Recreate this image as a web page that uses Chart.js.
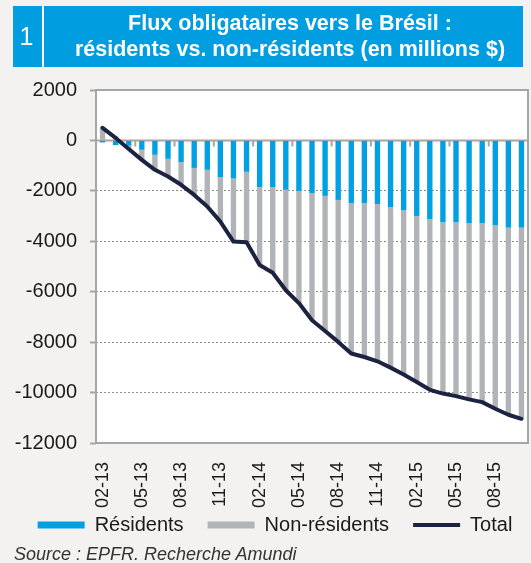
<!DOCTYPE html>
<html>
<head>
<meta charset="utf-8">
<script src="https://cdn.jsdelivr.net/npm/chart.js@4.4.0/dist/chart.umd.min.js"></script>
<style>
  html, body { margin: 0; padding: 0; }
  body {
    width: 531px; height: 563px; position: relative; overflow: hidden;
    background: #f3f2f0;
    font-family: "Liberation Sans", Arial, sans-serif;
  }
  #banner { position: absolute; left: 13px; top: 6px; width: 510px; height: 61px; background: #009ee0; }
  #num { position: absolute; left: 0; top: 0; width: 27px; height: 61px; color: #fff; font-size: 25px; line-height: 61px; text-align: center; }
  #sep { position: absolute; left: 29px; top: 0; width: 2px; height: 61px; background: #fff; }
  #title { position: absolute; left: 37px; top: 4px; width: 480px; color: #fff; font-weight: bold; font-size: 21.5px; line-height: 26px; text-align: center; white-space: nowrap; }
  #source { position: absolute; left: 14px; top: 544px; font-size: 18px; line-height: 20px; font-style: italic; color: #333; }
  canvas { position: absolute; left: 0; top: 0; }
</style>
</head>
<body>
<canvas id="fluxChart" width="531" height="563"></canvas>
<div id="banner">
  <div id="num">1</div>
  <div id="sep"></div>
  <div id="title">Flux obligataires vers le Brésil :<br>résidents vs. non-résidents (en millions $)</div>
</div>
<div id="source">Source : EPFR. Recherche Amundi</div>

<script>
// monthly categories, 02-13 .. 10-15
const months = [
  '02-13', '03-13', '04-13', '05-13', '06-13', '07-13', '08-13', '09-13', '10-13', '11-13', '12-13',
  '01-14', '02-14', '03-14', '04-14', '05-14', '06-14', '07-14', '08-14', '09-14', '10-14', '11-14', '12-14',
  '01-15', '02-15', '03-15', '04-15', '05-15', '06-15', '07-15', '08-15', '09-15', '10-15'
];

// cumulative flows, millions $
const residents = [
  -80, -185, -210, -370, -570, -730, -860, -1090, -1165, -1455, -1510,
  -1245, -1855, -1855, -1960, -2000, -2090, -2200, -2360, -2480, -2480, -2520, -2650,
  -2770, -2995, -3115, -3245, -3245, -3285, -3285, -3365, -3460, -3460
];
const nonResidents = [
  530, 165, -130, -400, -595, -700, -900, -1070, -1455, -1765, -2500,
  -2795, -3085, -3395, -3980, -4450, -5040, -5360, -5630, -5970, -6110, -6240, -6360,
  -6510, -6585, -6775, -6795, -6895, -6985, -7095, -7275, -7420, -7580
];
const total = [
  500, 100, -340, -770, -1165, -1430, -1760, -2160, -2620, -3220, -4010,
  -4040, -4940, -5250, -5940, -6450, -7130, -7560, -7990, -8450, -8590, -8760, -9010,
  -9280, -9580, -9890, -10040, -10140, -10270, -10380, -10640, -10880, -11040
];

const yMin = -12000;
const yMax = 2000;
const yStep = 2000;
const labelEvery = 3;

Chart.defaults.font.family = '"Liberation Sans", Arial, sans-serif';
Chart.defaults.color = '#1a1a1a';

// white plot area, grey frame, zero line with its little ticks
const plotFrame = {
  id: 'plotFrame',
  beforeDraw(chart) {
    const { ctx, chartArea: a } = chart;
    ctx.save();
    ctx.fillStyle = '#ffffff';
    ctx.fillRect(a.left, a.top, a.right - a.left, a.bottom - a.top);
    ctx.restore();
  },
  beforeDatasetsDraw(chart) {
    const { ctx, chartArea: a, scales } = chart;
    const x = scales.x, y = scales.y;
    const y0 = y.getPixelForValue(0);
    ctx.save();
    ctx.strokeStyle = '#a6a6a6';
    ctx.lineWidth = 2;
    ctx.strokeRect(a.left, a.top, a.right - a.left, a.bottom - a.top);
    ctx.beginPath();
    ctx.moveTo(a.left, y0);
    ctx.lineTo(a.right, y0);
    for (let i = labelEvery - 1; i < months.length - 1; i += labelEvery) {
      const xp = (x.getPixelForValue(i) + x.getPixelForValue(i + 1)) / 2;
      ctx.moveTo(xp, y0);
      ctx.lineTo(xp, y0 + 6);
    }
    ctx.stroke();
    ctx.restore();
  }
};

// legend padding also sets its vertical gap, so move the box into place
const legendNudge = {
  id: 'legendNudge',
  afterLayout(chart) {
    const lg = chart.legend;
    lg.left += 11;
    lg.right += 11;
    lg.top -= 18;
    lg.bottom -= 18;
  }
};

const ctx = document.getElementById('fluxChart').getContext('2d');
new Chart(ctx, {
  type: 'bar',
  data: {
    labels: months,
    datasets: [
      {
        label: 'Résidents',
        data: residents,
        backgroundColor: '#00a0e2',
        pointStyle: 'rect',
        stack: 'flux',
        order: 1,
        barPercentage: 0.41,
        categoryPercentage: 1
      },
      {
        label: 'Non-résidents',
        data: nonResidents,
        backgroundColor: '#b1b3b6',
        pointStyle: 'rect',
        stack: 'flux',
        order: 1,
        barPercentage: 0.41,
        categoryPercentage: 1
      },
      {
        type: 'line',
        label: 'Total',
        data: total,
        borderColor: '#1c2340',
        borderWidth: 4,
        borderCapStyle: 'round',
        borderJoinStyle: 'round',
        pointRadius: 0,
        pointBorderColor: '#1c2340',
        pointBorderWidth: 4,
        pointStyle: 'line',
        tension: 0,
        stack: 'total',
        order: 0
      }
    ]
  },
  options: {
    responsive: false,
    animation: false,
    devicePixelRatio: 1,
    layout: { padding: { top: 90, left: 0, right: 3, bottom: 0 } },
    scales: {
      x: {
        stacked: true,
        grid: { display: false },
        border: { display: false },
        ticks: {
          autoSkip: false,
          minRotation: 90,
          maxRotation: 90,
          padding: 11,
          font: { size: 18 },
          callback: (v, i) => (i % labelEvery === 0 ? months[i] : '')
        },
        afterFit: s => { s.height = 66; s.paddingLeft = 0; s.paddingRight = 0; }
      },
      y: {
        stacked: true,
        min: yMin,
        max: yMax,
        ticks: {
          stepSize: yStep,
          padding: 13,
          font: { size: 20 },
          callback: v => String(v)
        },
        grid: {
          color: '#8c8c8c',
          lineWidth: 1,
          tickLength: 6,
          tickColor: '#a6a6a6',
          tickWidth: 2,
          tickBorderDash: []
        },
        border: { display: false, dash: [2, 2] },
        afterFit: s => { s.width = 96; }
      }
    },
    plugins: {
      legend: {
        position: 'bottom',
        labels: {
          usePointStyle: true,
          pointStyleWidth: 47,
          boxHeight: 7,
          padding: 24,
          font: { size: 20 },
          color: '#1a1a1a',
          sort: (a, b) => a.datasetIndex - b.datasetIndex
        }
      },
      tooltip: { enabled: false },
      title: { display: false }
    }
  },
  plugins: [plotFrame, legendNudge]
});
</script>
</body>
</html>
